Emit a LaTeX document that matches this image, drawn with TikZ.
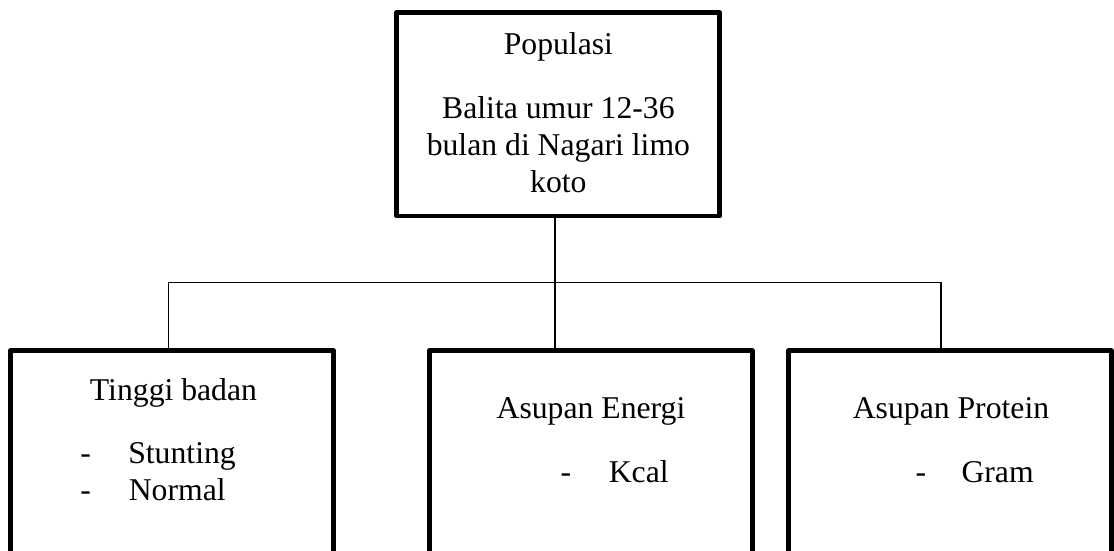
\documentclass[tikz,border=0pt]{standalone}
\usepackage{fontspec}
\setmainfont{Liberation Serif}
\begin{document}
\begin{tikzpicture}[x=1pt,y=-1pt,
  box/.style={draw=black, line width=4.8pt, line join=round, inner sep=0pt, outer sep=0pt,
              minimum width=323pt, anchor=north west},
  conn/.style={draw=black, line width=1.5pt},
  txt/.style={inner sep=0pt, outer sep=0pt, anchor=base, text=black,
              font=\fontsize{31.7pt}{37pt}\selectfont},
  ltxt/.style={txt, anchor=base west}]
\useasboundingbox (0,0) rectangle (1114,551);
\clip (0,0) rectangle (1114,551);
% boxes
\node[box, minimum height=203.3pt] (pop) at (396.7,12.7) {};
\node[box, minimum height=240pt] (tb)  at (10.5,350.8) {};
\node[box, minimum height=240pt] (ene) at (429.3,350.8) {};
\node[box, minimum height=240pt] (pro) at (788.3,350.8) {};
% connectors
\coordinate (hl) at (168.6,282.3);
\coordinate (hm) at (555,282.3);
\coordinate (hr) at (940.8,282.3);
\draw[conn] (pop.south -| hm) -- (ene.north -| hm);
\draw[conn] (tb.north -| hl) -- (hl) -- (hr) -- (pro.north -| hr);
% top box text
\node[txt] (t1) at (558.4,54.3) {Populasi};
\node[txt] (t2) at (558.4,118) {Balita umur 12-36};
\node[txt] (t3) at (558.4,155) {bulan di Nagari limo};
\node[txt] (t4) at (558.4,192) {koto};
% left box text
\node[txt] (l1) at (173.5,400.7) {Tinggi badan};
\node[ltxt] (l2d) at (80.3,463.8) {-};
\node[ltxt] (l2) at (128.3,463.8) {Stunting};
\node[ltxt] (l3d) at (80.3,500.7) {-};
\node[ltxt] (l3) at (128.8,500.7) {Normal};
% middle box text
\node[txt] (m1) at (591,418.5) {Asupan Energi};
\node[ltxt] (m2d) at (560.6,482.4) {-};
\node[ltxt] (m2) at (608.8,482.4) {Kcal};
% right box text
\node[txt] (r1) at (951,418.5) {Asupan Protein};
\node[ltxt] (r2d) at (915.5,482.4) {-};
\node[ltxt] (r2) at (961.5,482.4) {Gram};
\end{tikzpicture}
\end{document}
